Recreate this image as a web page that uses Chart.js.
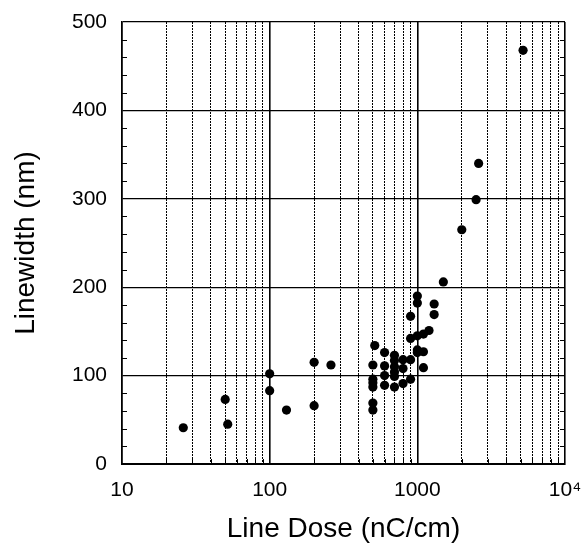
<!DOCTYPE html>
<html>
<head>
<meta charset="utf-8">
<script src="https://cdn.jsdelivr.net/npm/chart.js@4"></script>
<style>
  html, body { margin: 0; padding: 0; background: #fff; }
  #wrap { width: 583px; height: 546px; position: relative; }
</style>
</head>
<body>
<div id="wrap"><canvas id="c"></canvas></div>
<script>
// ---- data ----
const lineDose = [26, 50, 52, 100, 100, 130, 200, 200, 260,
  515, 500, 500, 500, 500, 500, 500,
  600, 600, 600, 600,
  700, 700, 700, 700, 700, 700,
  800, 800, 800,
  900, 900, 900, 900,
  1000, 1000, 1000, 1000, 1000,
  1100, 1100, 1100,
  1200, 1300, 1300, 1500, 2000, 2500, 2600, 5200];
const lineWidth = [41, 73, 45, 102, 83, 61, 115, 66, 112,
  134, 112, 96, 92, 87, 69, 61,
  126, 111, 100, 89,
  123, 117, 110, 104, 99, 87,
  118, 108, 91,
  167, 142, 118, 96,
  190, 182, 145, 129, 126,
  147, 127, 109,
  151, 181, 169, 206, 265, 299, 340, 468];

const xTickValues = [10,20,30,40,50,60,70,80,90,
  100,200,300,400,500,600,700,800,900,
  1000,2000,3000,4000,5000,6000,7000,8000,9000,10000];
const xDecades = [10, 100, 1000, 10000];
const xTickLabels = ["10", "100", "1000", "10\u2074"];
const yTickValues = [0, 100, 200, 300, 400, 500];
const yMinorTicks = [20,40,60,80,120,140,160,180,220,240,260,280,320,340,360,380,420,440,460,480];

const xTitle = "Line Dose (nC/cm)";
const yTitle = "Linewidth (nm)";

const points = lineDose.map((d, i) => ({ x: d, y: lineWidth[i] }));
const FONT = "'Liberation Sans', Arial, Helvetica, sans-serif";
const isDecade = v => xDecades.includes(v);

const innerTicks = {
  id: 'innerTicks',
  afterDatasetsDraw(chart) {
    const { ctx, chartArea, scales } = chart;
    ctx.save();
    ctx.strokeStyle = '#000';
    ctx.lineWidth = 1;
    ctx.beginPath();
    yMinorTicks.forEach(v => {
      const py = Math.round(scales.y.getPixelForValue(v)) + 0.5;
      ctx.moveTo(chartArea.left, py); ctx.lineTo(chartArea.left + 5, py);
      ctx.moveTo(chartArea.right, py); ctx.lineTo(chartArea.right - 5, py);
    });
    xTickValues.forEach(v => {
      if (isDecade(v)) return;
      const px = Math.round(scales.x.getPixelForValue(v)) + 0.5;
      ctx.moveTo(px, chartArea.bottom); ctx.lineTo(px, chartArea.bottom - 5);
    });
    ctx.stroke();
    ctx.restore();
  }
};

new Chart(document.getElementById('c'), {
  type: 'scatter',
  data: {
    datasets: [{
      data: points,
      backgroundColor: '#000',
      borderColor: '#000',
      borderWidth: 0,
      pointRadius: 4.6,
      pointHoverRadius: 4.6
    }]
  },
  options: {
    responsive: true,
    maintainAspectRatio: false,
    animation: false,
    devicePixelRatio: 1,
    layout: { padding: { left: 0, top: 22, right: 18, bottom: 0 } },
    plugins: { legend: { display: false }, tooltip: { enabled: false } },
    scales: {
      x: {
        type: 'logarithmic',
        min: 10,
        max: 10000,
        afterBuildTicks: scale => {
          scale.ticks = xTickValues.map(v => ({ value: v, major: isDecade(v) }));
        },
        afterFit: scale => {
          scale.height = 82;
          scale.paddingLeft = 0;
          scale.paddingRight = 0;
        },
        ticks: {
          autoSkip: false,
          maxRotation: 0,
          minRotation: 0,
          padding: 14,
          color: '#000',
          font: { family: FONT, size: 21 },
          callback: v => {
            const i = xDecades.indexOf(v);
            return i >= 0 ? xTickLabels[i] : '';
          }
        },
        grid: {
          drawTicks: false,
          color: '#000',
          lineWidth: ctx => (ctx.tick && isDecade(ctx.tick.value)) ? 1.6 : 1
        },
        border: {
          display: true,
          color: '#000',
          width: 2,
          dash: ctx => (ctx.tick && isDecade(ctx.tick.value)) ? [] : [2, 1]
        },
        title: {
          display: true,
          text: xTitle,
          color: '#000',
          font: { family: FONT, size: 28 },
          padding: { top: 0, bottom: 0 }
        }
      },
      y: {
        type: 'linear',
        min: 0,
        max: 500,
        afterBuildTicks: scale => {
          scale.ticks = yTickValues.map(v => ({ value: v }));
        },
        afterFit: scale => {
          scale.width = 122;
          scale.paddingTop = 0;
          scale.paddingBottom = 0;
        },
        ticks: {
          padding: 15,
          color: '#000',
          font: { family: FONT, size: 21 }
        },
        grid: {
          drawTicks: false,
          color: '#000',
          lineWidth: 1.2
        },
        border: { display: true, color: '#000', width: 1.5 },
        title: {
          display: true,
          text: yTitle,
          color: '#000',
          font: { family: FONT, size: 28 },
          padding: { top: 9, bottom: 0 }
        }
      }
    }
  },
  plugins: [innerTicks]
});
</script>
</body>
</html>
